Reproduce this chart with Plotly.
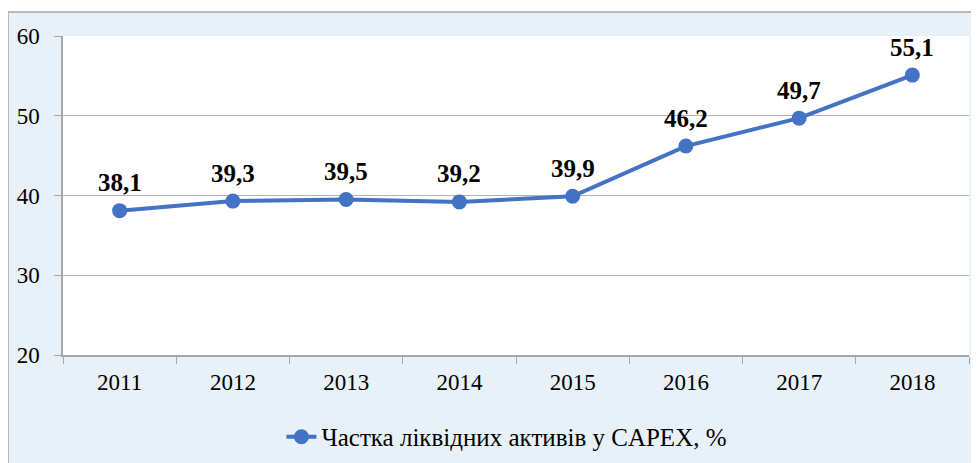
import plotly.graph_objects as go

years = ["2011", "2012", "2013", "2014", "2015", "2016", "2017", "2018"]
values = [38.1, 39.3, 39.5, 39.2, 39.9, 46.2, 49.7, 55.1]
labels = ["38,1", "39,3", "39,5", "39,2", "39,9", "46,2", "49,7", "55,1"]
series_name = "Частка ліквідних активів у CAPEX, %"

FONT = "Liberation Serif, Times New Roman, serif"
BLUE = "#4472C4"

fig = go.Figure()
fig.add_trace(go.Scatter(
    x=years, y=values, mode="lines+markers",
    name=series_name,
    line=dict(color=BLUE, width=4),
    marker=dict(color=BLUE, size=15),
    cliponaxis=False,
))

annotations = [
    dict(x=i, y=v, xref="x", yref="y", text="<b>" + lab + "</b>", showarrow=False,
         yshift=28, font=dict(family=FONT, size=25, color="#000000"))
    for i, (v, lab) in enumerate(zip(values, labels))
]

fig.update_layout(
    width=979, height=463,
    margin=dict(l=55, r=18, t=28, b=116, autoexpand=False),
    paper_bgcolor="#ffffff",
    plot_bgcolor="#ffffff",
    font=dict(family=FONT, size=23, color="#000000"),
    showlegend=True,
    legend=dict(orientation="h", x=0.49, xanchor="center", y=-0.257, yanchor="middle",
                font=dict(family=FONT, size=25), bgcolor="rgba(0,0,0,0)"),
    annotations=annotations,
    shapes=[
        dict(type="rect", xref="paper", yref="paper",
             x0=-0.0607, x1=1.05, y0=-0.4, y1=1.0752,
             fillcolor="#E8F0F8", line=dict(color="#A6A6A6", width=1.5),
             layer="below"),
        dict(type="rect", xref="paper", yref="paper",
             x0=0, x1=1, y0=0, y1=1,
             fillcolor="#ffffff", line=dict(width=0),
             layer="below"),
    ],
)
fig.update_xaxes(type="category", range=[-0.5, len(years) - 0.5],
                 showgrid=False, showline=True, linecolor="#A6A6A6", linewidth=1.5,
                 ticks="outside", tickson="boundaries", ticklen=7, tickcolor="#A6A6A6",
                 tickfont=dict(family=FONT, size=23), tickangle=0, automargin=False,
                 ticklabelstandoff=6)
fig.update_yaxes(range=[20, 60], dtick=10, showgrid=True, gridcolor="#B4B4B4", gridwidth=1,
                 showline=True, linecolor="#A6A6A6", linewidth=1.5,
                 ticks="outside", ticklen=7, tickcolor="#A6A6A6",
                 tickfont=dict(family=FONT, size=23), zeroline=False, automargin=False,
                 ticklabelstandoff=10)

fig.write_html("out.html")
